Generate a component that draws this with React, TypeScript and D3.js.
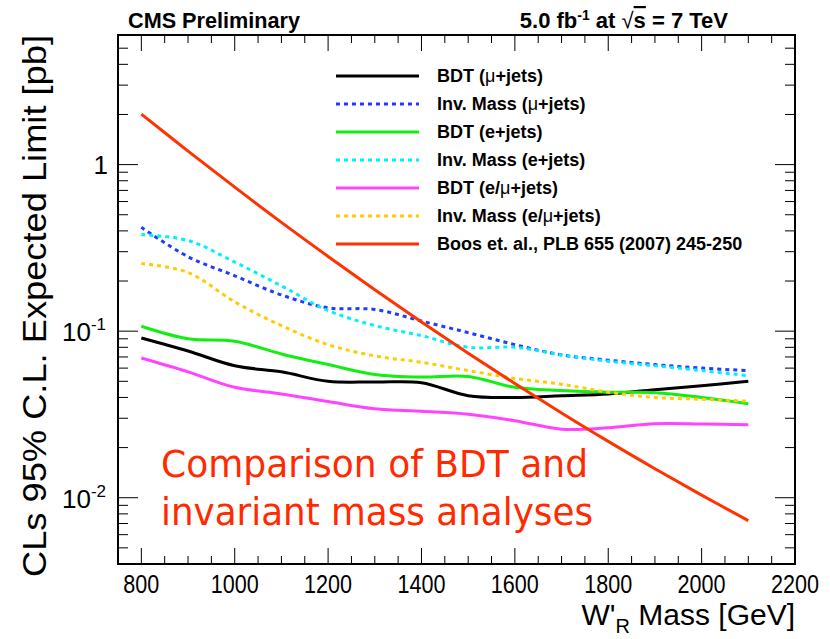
import React from "react";
import * as d3 from "d3";

const masses = [800, 900, 1000, 1100, 1200, 1300, 1400, 1500, 1600, 1700, 1800, 1900, 2000, 2100];

const bdtMu = [0.091, 0.076, 0.062, 0.057, 0.050, 0.0495, 0.049, 0.041, 0.040, 0.041, 0.042, 0.0445, 0.047, 0.050];
const invMu = [0.42, 0.28, 0.215, 0.165, 0.138, 0.135, 0.115, 0.098, 0.083, 0.072, 0.067, 0.063, 0.060, 0.058];
const bdtE = [0.107, 0.090, 0.087, 0.073, 0.063, 0.055, 0.053, 0.0535, 0.046, 0.044, 0.043, 0.0427, 0.040, 0.0367];
const invE = [0.38, 0.35, 0.26, 0.187, 0.133, 0.108, 0.094, 0.080, 0.080, 0.072, 0.066, 0.062, 0.058, 0.054];
const bdtEMu = [0.069, 0.057, 0.046, 0.042, 0.0378, 0.0342, 0.033, 0.0317, 0.029, 0.0258, 0.0263, 0.0278, 0.0277, 0.0274];
const invEMu = [0.255, 0.225, 0.15, 0.108, 0.083, 0.071, 0.065, 0.058, 0.052, 0.048, 0.043, 0.040, 0.039, 0.038];
const boos = [2.01, 1.206, 0.732, 0.45, 0.281, 0.1774, 0.1136, 0.0737, 0.0485, 0.0323, 0.0218, 0.01494, 0.01037, 0.00729];

const xTicks = [800, 1000, 1200, 1400, 1600, 1800, 2000, 2200];
const yMajor = [1, 0.1, 0.01];

const series = [
  { name: "BDT", paren: "μ+jets", vals: bdtMu, color: "#000000", dash: null },
  { name: "Inv. Mass", paren: "μ+jets", vals: invMu, color: "#1f3cff", dash: "4 4" },
  { name: "BDT", paren: "e+jets", vals: bdtE, color: "#11ee11", dash: null },
  { name: "Inv. Mass", paren: "e+jets", vals: invE, color: "#00f0ff", dash: "4 4" },
  { name: "BDT", paren: "e/μ+jets", vals: bdtEMu, color: "#ff44ff", dash: null },
  { name: "Inv. Mass", paren: "e/μ+jets", vals: invEMu, color: "#ffcc00", dash: "4 4" },
  { name: "Boos et. al., PLB 655 (2007) 245-250", paren: null, vals: boos, color: "#ff3300", dash: null },
];

const L = 118, R = 795, T = 35, B = 564;

export default function App() {
  const x = d3.scaleLinear().domain([750, 2200]).range([L, R]);
  const y = d3.scaleLog().domain([0.004, 6]).range([B, T]);
  const line = d3
    .line<[number, number]>()
    .x((d) => x(d[0]))
    .y((d) => y(d[1]))
    .curve(d3.curveCatmullRom.alpha(0.5));

  const xMinor = d3.range(750, 2201, 50);
  const yMinor: number[] = [];
  [0.001, 0.01, 0.1, 1].forEach((dec) => {
    for (let k = 2; k <= 9; k++) {
      const v = dec * k;
      if (v >= 0.004 && v <= 6) yMinor.push(v);
    }
  });

  const font = "'Liberation Sans', Arial, Helvetica, sans-serif";

  return (
    <svg width={830} height={639} style={{ position: "absolute", left: 0, top: 0, background: "#fff" }} fontFamily={font}>
      <rect x={0} y={0} width={830} height={639} fill="#fff" />
      <g>
        {series.map((s, i) => (
          <path
            key={i}
            d={line(masses.map((m, j) => [m, s.vals[j]] as [number, number])) || ""}
            fill="none"
            stroke={s.color}
            strokeWidth={3}
            strokeDasharray={s.dash || undefined}
          />
        ))}
      </g>
      <rect x={L} y={T} width={R - L} height={B - T} fill="none" stroke="#000" strokeWidth={2} />
      {xMinor.map((v) => {
        const major = xTicks.includes(v);
        const len = major ? 16 : 8;
        return (
          <g key={"xt" + v}>
            <line x1={x(v)} x2={x(v)} y1={B} y2={B - len} stroke="#000" strokeWidth={1} />
            <line x1={x(v)} x2={x(v)} y1={T} y2={T + len} stroke="#000" strokeWidth={1} />
          </g>
        );
      })}
      {yMajor.map((v) => (
        <g key={"ym" + v}>
          <line x1={L} x2={L + 20} y1={y(v)} y2={y(v)} stroke="#000" strokeWidth={1} />
          <line x1={R} x2={R - 20} y1={y(v)} y2={y(v)} stroke="#000" strokeWidth={1} />
        </g>
      ))}
      {yMinor.map((v) => (
        <g key={"yn" + v}>
          <line x1={L} x2={L + 10} y1={y(v)} y2={y(v)} stroke="#000" strokeWidth={1} />
          <line x1={R} x2={R - 10} y1={y(v)} y2={y(v)} stroke="#000" strokeWidth={1} />
        </g>
      ))}
      {xTicks.map((v) => (
        <text
          key={"xl" + v}
          x={x(v)}
          y={593}
          textAnchor="middle"
          fontSize={26}
          textLength={v >= 1000 ? 48 : 36}
          lengthAdjust="spacingAndGlyphs"
        >
          {v}
        </text>
      ))}
      <text x={108} y={y(1) + 9} textAnchor="end" fontSize={26}>1</text>
      {[-1, -2].map((e) => (
        <text key={"yl" + e} x={62} y={y(Math.pow(10, e)) + 10} fontSize={26}>
          10<tspan fontSize={17} dy={-11}>{"-" + -e}</tspan>
        </text>
      ))}
      <text x={795} y={625} textAnchor="end" fontSize={30}>
        W'<tspan fontSize={20} dy={8}>R</tspan>
        <tspan dy={-8}> Mass [GeV]</tspan>
      </text>
      <text
        transform={`translate(46,${T}) rotate(-90)`}
        textAnchor="end"
        fontSize={33}
        textLength={542}
        lengthAdjust="spacingAndGlyphs"
      >
        CLs 95% C.L. Expected Limit [pb]
      </text>
      <text x={128} y={28} fontSize={22} fontWeight="bold" textLength={172} lengthAdjust="spacingAndGlyphs">
        CMS Preliminary
      </text>
      <text x={728} y={28} textAnchor="end" fontSize={22} fontWeight="bold">
        5.0 fb<tspan fontSize={14} dy={-8}>-1</tspan>
        <tspan dy={8}> at </tspan>
        <tspan fontWeight="normal">√</tspan>
        <tspan textDecoration="overline">s</tspan>
        <tspan> = 7 TeV</tspan>
      </text>
      {series.map((s, i) => {
        const cy = 76 + i * 28;
        return (
          <g key={"lg" + i}>
            <line x1={336} x2={419} y1={cy} y2={cy} stroke={s.color} strokeWidth={3} strokeDasharray={s.dash || undefined} />
            <text x={437} y={cy + 6} fontSize={18} fontWeight="bold">
              {s.name}
              {s.paren ? (
                <>
                  {" ("}
                  {s.paren.split("μ").map((part, k, arr) => (
                    <React.Fragment key={k}>
                      {part}
                      {k < arr.length - 1 ? <tspan fontWeight="normal">μ</tspan> : null}
                    </React.Fragment>
                  ))}
                  {")"}
                </>
              ) : null}
            </text>
          </g>
        );
      })}
      <g fill="#ff2a00" fontFamily="'DejaVu Sans', Verdana, sans-serif" fontSize={37}>
        <text x={161} y={477} textLength={427} lengthAdjust="spacingAndGlyphs">Comparison of BDT and</text>
        <text x={161} y={525} textLength={432} lengthAdjust="spacingAndGlyphs">invariant mass analyses</text>
      </g>
    </svg>
  );
}
